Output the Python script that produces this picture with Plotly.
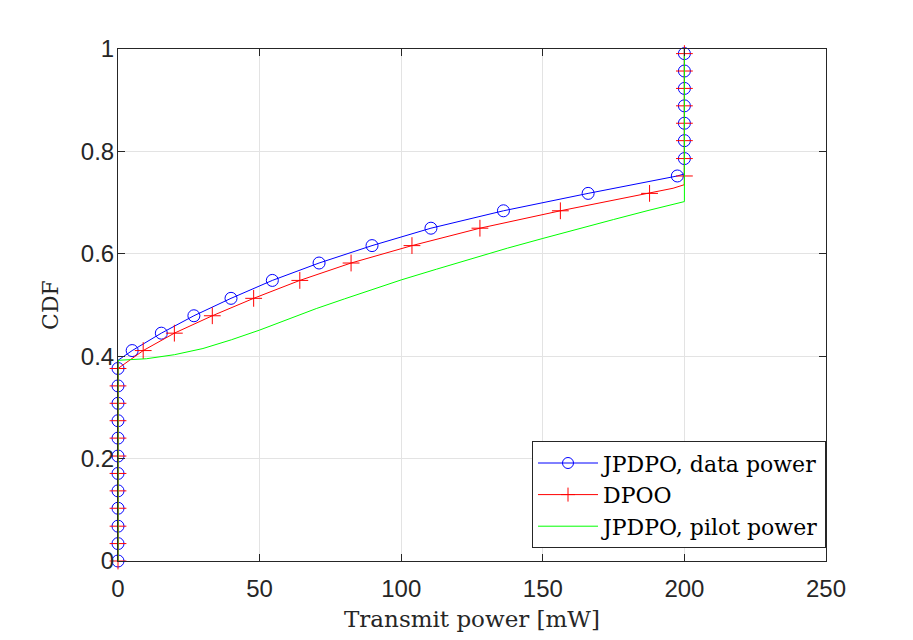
import plotly.graph_objects as go

# ---- data ----
# JPDPO, data power: CDF curve
blue_x = [0, 0, 5.0, 15.3, 26.8, 39.9, 54.5, 71.0, 89.7, 110.5, 136.1, 166.0, 197.5, 200, 200]
blue_y = [0, 0.392, 0.411, 0.445, 0.479, 0.513, 0.548, 0.582, 0.616, 0.650, 0.684, 0.718, 0.752, 0.756, 1.0]
blue_mx = [0]*12 + [5.0, 15.3, 26.8, 39.9, 54.5, 71.0, 89.7, 110.5, 136.1, 166.0, 197.5] + [200]*7
blue_my = [0, 0.034, 0.068, 0.103, 0.137, 0.171, 0.205, 0.240, 0.274, 0.308, 0.342, 0.376,
           0.411, 0.445, 0.479, 0.513, 0.548, 0.582, 0.616, 0.650, 0.684, 0.718, 0.752,
           0.786, 0.821, 0.855, 0.889, 0.923, 0.957, 0.991]

# DPOO
red_x = [0, 0, 8.9, 19.9, 33.3, 47.9, 64.2, 82.3, 103.8, 127.8, 156.2, 187.7, 196, 200, 200]
red_y = [0, 0.376, 0.411, 0.445, 0.479, 0.513, 0.548, 0.582, 0.616, 0.650, 0.684, 0.718, 0.728, 0.735, 1.0]
red_mx = [0]*12 + [8.9, 19.9, 33.3, 47.9, 64.2, 82.3, 103.8, 127.8, 156.2, 187.7] + [200]*8
red_my = [0, 0.034, 0.068, 0.103, 0.137, 0.171, 0.205, 0.240, 0.274, 0.308, 0.342, 0.376,
          0.411, 0.445, 0.479, 0.513, 0.548, 0.582, 0.616, 0.650, 0.684, 0.718,
          0.752, 0.786, 0.821, 0.855, 0.889, 0.923, 0.957, 0.991]

# JPDPO, pilot power
green_x = [0, 0, 10, 20, 30, 40, 50, 60, 70, 80, 90, 100, 112.5, 125, 137.5, 150, 162.5, 175, 187.5, 200, 200]
green_y = [0, 0.392, 0.395, 0.403, 0.415, 0.432, 0.451, 0.472, 0.493, 0.512, 0.531, 0.549,
           0.570, 0.591, 0.611, 0.630, 0.649, 0.667, 0.685, 0.702, 1.0]

names = ["JPDPO, data power", "DPOO", "JPDPO, pilot power"]
x_ticks = [0, 50, 100, 150, 200, 250]
y_ticks = [0, 0.2, 0.4, 0.6, 0.8, 1]

BLUE, RED, GREEN = "#0000ff", "#ff0000", "#00ff00"
circle = dict(symbol="circle-open", size=12, color=BLUE, line=dict(width=1, color=BLUE))
plus = dict(symbol="cross-thin-open", size=12, color=RED, line=dict(width=1, color=RED))

fig = go.Figure()
fig.add_trace(go.Scatter(x=blue_x, y=blue_y, mode="lines", line=dict(color=BLUE, width=1),
                         showlegend=False, cliponaxis=False))
fig.add_trace(go.Scatter(x=blue_mx, y=blue_my, mode="markers", marker=circle,
                         showlegend=False, cliponaxis=False))
fig.add_trace(go.Scatter(x=red_x, y=red_y, mode="lines", line=dict(color=RED, width=1),
                         showlegend=False, cliponaxis=False))
fig.add_trace(go.Scatter(x=red_mx, y=red_my, mode="markers", marker=plus,
                         showlegend=False, cliponaxis=False))
fig.add_trace(go.Scatter(x=green_x, y=green_y, mode="lines", line=dict(color=GREEN, width=1),
                         showlegend=False, cliponaxis=False))

# legend entries
fig.add_trace(go.Scatter(x=[None], y=[None], mode="lines+markers", name=names[0],
                         line=dict(color=BLUE, width=1), marker=dict(circle, size=11)))
fig.add_trace(go.Scatter(x=[None], y=[None], mode="lines+markers", name=names[1],
                         line=dict(color=RED, width=1), marker=dict(plus, size=10)))
fig.add_trace(go.Scatter(x=[None], y=[None], mode="lines", name=names[2],
                         line=dict(color=GREEN, width=1)))

axis_common = dict(
    showline=True, linecolor="#262626", linewidth=1, mirror="ticks",
    ticks="inside", ticklen=7, tickcolor="#262626", tickwidth=1,
    showgrid=True, gridcolor="#e3e3e3", gridwidth=1, zeroline=False,
    tickfont=dict(family="Liberation Sans, Arial, sans-serif", size=24, color="#262626"),
)

fig.update_layout(
    width=913, height=640,
    margin=dict(l=118, r=87, t=49, b=77),
    paper_bgcolor="white", plot_bgcolor="white",
    xaxis=dict(range=[0, 250], tickvals=x_ticks, ticktext=[str(v) for v in x_ticks],
               ticklabelstandoff=6,
               title=dict(text="Transmit power [mW]", standoff=10,
                          font=dict(family="DejaVu Serif, serif", size=23, color="#262626")),
               **axis_common),
    yaxis=dict(range=[0, 1], tickvals=y_ticks, ticktext=["0", "0.2", "0.4", "0.6", "0.8", "1"],
               ticklabelstandoff=-2,
               title=dict(text="CDF", standoff=16,
                          font=dict(family="DejaVu Serif, serif", size=22, color="#262626")),
               **axis_common),
    legend=dict(x=1, xanchor="right", y=0.025, yanchor="bottom", itemwidth=60,
                bgcolor="white", bordercolor="#262626", borderwidth=1,
                font=dict(family="DejaVu Serif, serif", size=22, color="black")),
)

fig.write_html("out.html")
